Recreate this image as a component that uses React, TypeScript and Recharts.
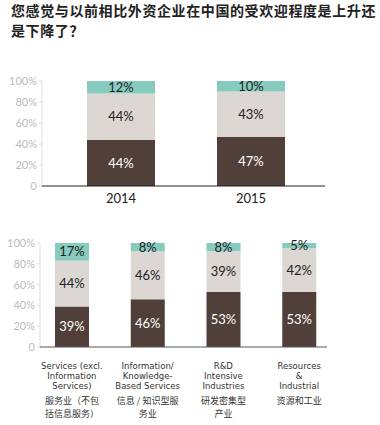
import React from 'react';
import { BarChart, Bar, XAxis, YAxis, LabelList } from 'recharts';

const titleLines = ['您感觉与以前相比外资企业在中国的受欢迎程度是上升还', '是下降了？'];

const years = ['2014', '2015'];
const yearBottom = [44, 47];
const yearMiddle = [44, 43];
const yearTop = [12, 10];

const sectors = ['services', 'knowledge', 'rnd', 'resources'];
const sectorEn = [
  ['Services (excl.', 'Information', 'Services)'],
  ['Information/', 'Knowledge-', 'Based Services'],
  ['R&D', 'Intensive', 'Industries'],
  ['Resources', '&', 'Industrial'],
];
const sectorZh = [
  ['服务业（不包', '括信息服务）'],
  ['信息 / 知识型服', '务业'],
  ['研发密集型', '产业'],
  ['资源和工业'],
];
const sectorBottom = [39, 46, 53, 53];
const sectorMiddle = [44, 46, 39, 42];
const sectorTop = [17, 8, 8, 5];

const yTicks = [0, 20, 40, 60, 80, 100];

const DARK = '#514039';
const LIGHT = '#dcd7d3';
const TEAL = '#87cbbf';
const FONT = 'Lato, "Noto Sans CJK SC", sans-serif';
const EN_FONT = '"DejaVu Sans", sans-serif';
const ZH_FONT = '"Noto Sans CJK SC", sans-serif';

const yearData = years.map((y, i) => ({
  name: y,
  bottom: yearBottom[i],
  middle: yearMiddle[i],
  top: yearTop[i],
}));

const sectorData = sectors.map((s, i) => ({
  name: s,
  bottom: sectorBottom[i],
  middle: sectorMiddle[i],
  top: sectorTop[i],
}));

const pct = (v: any) => `${v}%`;
const yFmt = (v: any) => (v === 0 ? '0' : `${v}%`);

function SectorTick(props: any) {
  const { x, y, payload } = props;
  const idx = sectors.indexOf(payload.value);
  const en = sectorEn[idx] || [];
  const zh = sectorZh[idx] || [];
  return (
    <g transform={`translate(${x},${y})`} fill="#333">
      {en.map((line, i) => (
        <text key={'e' + i} x={0} y={14 + i * 10} textAnchor="middle" fontSize={8.5} fontFamily={EN_FONT}>
          {line}
        </text>
      ))}
      {zh.map((line, i) => (
        <text key={'z' + i} x={0} y={49 + i * 13} textAnchor="middle" fontSize={9} fontFamily={ZH_FONT}>
          {line}
        </text>
      ))}
    </g>
  );
}

function Stack({ size }: { size: number }) {
  return [
    <Bar key="b" dataKey="bottom" stackId="a" fill={DARK} barSize={size} isAnimationActive={false}>
      <LabelList dataKey="bottom" position="center" formatter={pct} fill="#fff" fontSize={13} fontFamily={FONT} />
    </Bar>,
    <Bar key="m" dataKey="middle" stackId="a" fill={LIGHT} barSize={size} isAnimationActive={false}>
      <LabelList dataKey="middle" position="center" formatter={pct} fill="#222" fontSize={13} fontFamily={FONT} />
    </Bar>,
    <Bar key="t" dataKey="top" stackId="a" fill={TEAL} barSize={size} isAnimationActive={false}>
      <LabelList dataKey="top" position="center" formatter={pct} fill="#222" fontSize={13} fontFamily={FONT} />
    </Bar>,
  ];
}

export default function App() {
  return (
    <div style={{ position: 'absolute', left: 0, top: 0, width: 380, height: 425, background: '#fff' }}>
      <div
        style={{
          position: 'absolute',
          left: 11,
          top: 0,
          width: 369,
          fontFamily: '"Noto Sans CJK SC", sans-serif',
          fontWeight: 700,
          fontSize: 14,
          letterSpacing: 0.6,
          lineHeight: '20px',
          color: '#222',
          whiteSpace: 'nowrap',
        }}
      >
        {titleLines.map((l, i) => (
          <div key={i}>{l}</div>
        ))}
      </div>

      <div style={{ position: 'absolute', left: 0, top: 70 }}>
        <BarChart width={380} height={146} data={yearData} margin={{ top: 11, right: 55, left: 0, bottom: 0 }}>
          <YAxis
            width={42}
            domain={[0, 100]}
            ticks={yTicks}
            tickFormatter={yFmt}
            tick={{ fill: '#bbb', fontSize: 11, fontFamily: FONT }}
            axisLine={{ stroke: '#ddd' }}
            tickLine={{ stroke: '#ddd' }}
            tickSize={3}
          />
          <XAxis
            dataKey="name"
            padding={{ left: 14, right: 9 }}
            axisLine={{ stroke: '#222' }}
            tickLine={false}
            tick={{ fill: '#222', fontSize: 13, fontFamily: FONT }}
            height={30}
          />
          {Stack({ size: 68 })}
        </BarChart>
      </div>

      <div style={{ position: 'absolute', left: 0, top: 232 }}>
        <BarChart width={380} height={193} data={sectorData} margin={{ top: 11, right: 53, left: 0, bottom: 0 }}>
          <YAxis
            width={40}
            domain={[0, 100]}
            ticks={yTicks}
            tickFormatter={yFmt}
            tick={{ fill: '#bbb', fontSize: 11, fontFamily: FONT }}
            axisLine={{ stroke: '#ddd' }}
            tickLine={{ stroke: '#ddd' }}
            tickSize={3}
          />
          <XAxis
            dataKey="name"
            padding={{ left: -6, right: -10 }}
            axisLine={{ stroke: '#555' }}
            tickLine={false}
            tick={<SectorTick />}
            interval={0}
            height={78}
          />
          {Stack({ size: 34 })}
        </BarChart>
      </div>
    </div>
  );
}
